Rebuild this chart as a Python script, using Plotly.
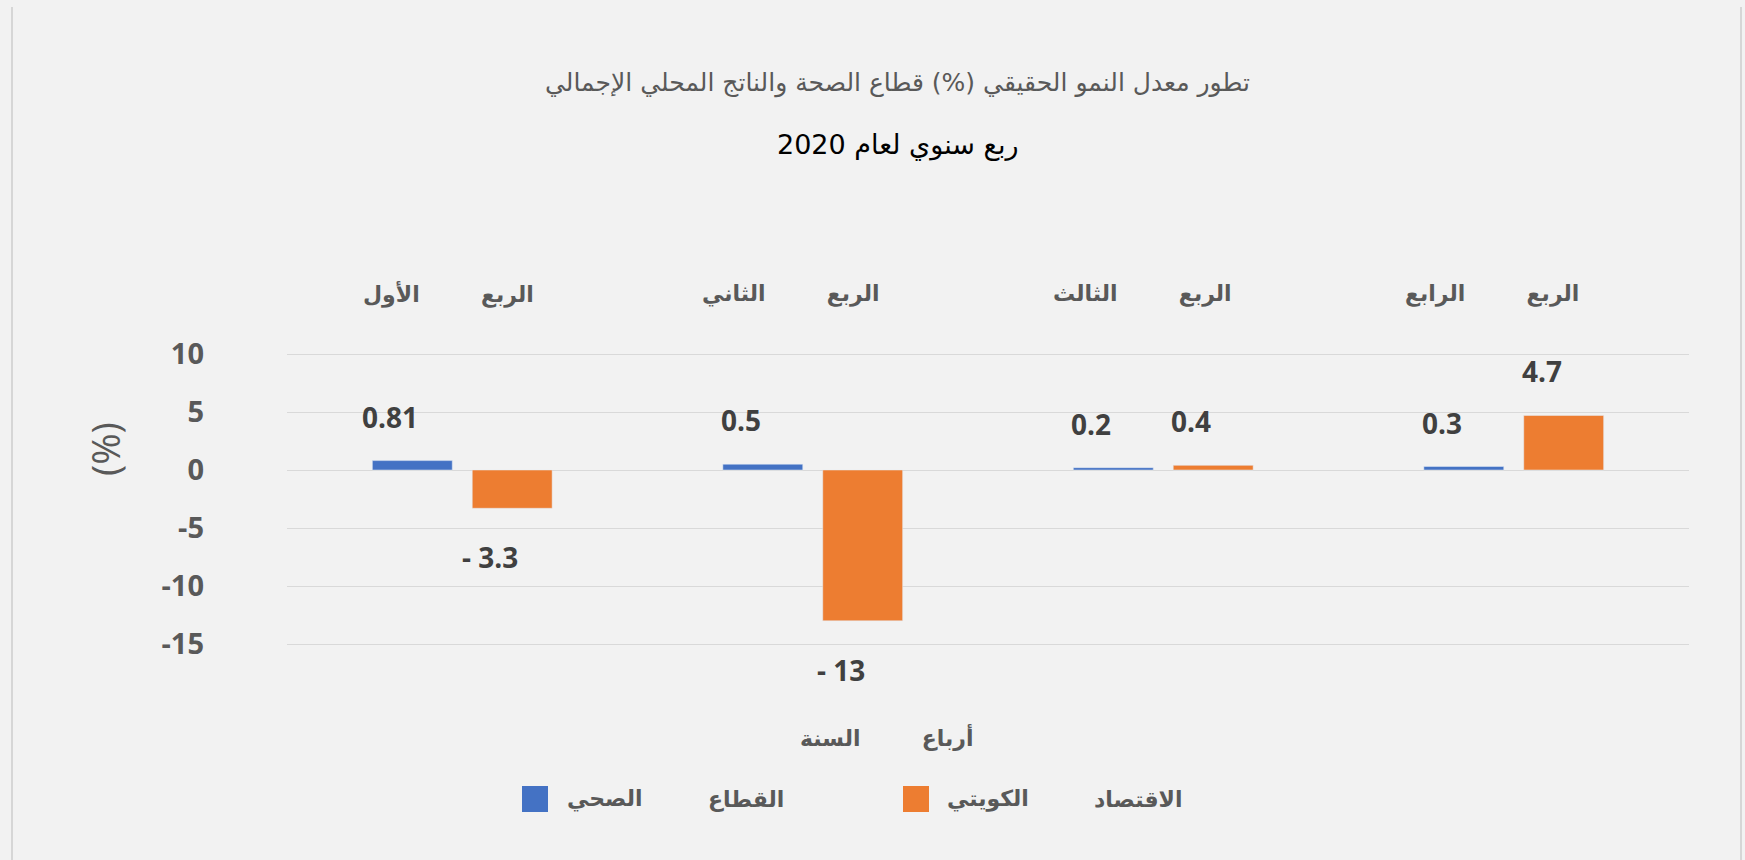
import plotly.graph_objects as go

# ---------------- data ----------------
quarters = ["الربع الأول", "الربع الثاني", "الربع الثالث", "الربع الرابع"]
series_names = ["القطاع الصحي", "الاقتصاد الكويتي"]
health = [0.81, 0.5, 0.2, 0.3]
economy = [-3.3, -13, 0.4, 4.7]
health_labels = ["0.81", "0.5", "0.2", "0.3"]
economy_labels = ["- 3.3", "- 13", "0.4", "4.7"]
y_ticks = [-15, -10, -5, 0, 5, 10]
y_tick_text = ["-15", "-10", "-5", "0", "5", "10"]
title_line1 = "تطور معدل النمو الحقيقي (%) قطاع الصحة والناتج المحلي الإجمالي"
title_line2 = "ربع سنوي لعام 2020"
x_title = "أرباع السنة"
y_title = "(%)"

# ---------------- styles ----------------
BLUE = "#4472C4"
ORANGE = "#ED7D31"
GRAY = "#595959"
DARK = "#404040"
BG = "#F2F2F2"
GRID = "#D9D9D9"
W, H = 1745, 860
L, R, T, B = 287, 56, 352, 214
PW, PH = W - L - R, H - T - B
EXTRA = 2 / 11.6  # small padding so the 10 and -15 gridlines are drawn
AR_FONT = "DejaVu Sans"
NUM_FONT = "Open Sans"
NB = "\u00a0"


def px_x(p):
    return (p - L) / PW


def px_y(p):
    return (H - B - p) / PH


def spaced(text, n):
    return text.replace(" ", NB * n)


fig = go.Figure()
fig.add_trace(go.Bar(x=quarters, y=health, name=series_names[0],
                     marker_color=BLUE, showlegend=False))
fig.add_trace(go.Bar(x=quarters, y=economy, name=series_names[1],
                     marker_color=ORANGE, showlegend=False))

annotations = []
# data labels
for vals, labels, off in ((health, health_labels, -50), (economy, economy_labels, 50)):
    for q, v, t in zip(quarters, vals, labels):
        annotations.append(dict(
            x=q, y=v, xref="x", yref="y", text=t, showarrow=False,
            xshift=off - 22, yshift=44 if v >= 0 else -49,
            yanchor="middle", xanchor="center",
            font=dict(family=NUM_FONT, size=28, color=DARK, weight="bold")))

# category labels (top)
cat_shift = [-14, -22, -21, -22]
for q, s in zip(quarters, cat_shift):
    annotations.append(dict(
        x=q, y=px_y(294), xref="x", yref="paper", text=spaced(q, 8),
        showarrow=False, xshift=s, yanchor="middle", xanchor="center",
        font=dict(family=AR_FONT, size=22, color=GRAY, weight="bold")))

# titles
annotations.append(dict(x=px_x(897), y=px_y(83), xref="paper", yref="paper",
                        text=title_line1, showarrow=False, xanchor="center", yanchor="middle",
                        font=dict(family=AR_FONT, size=25, color=GRAY)))
annotations.append(dict(x=px_x(897), y=px_y(145), xref="paper", yref="paper",
                        text=title_line2, showarrow=False, xanchor="center", yanchor="middle",
                        font=dict(family=AR_FONT, size=27, color="#000000")))
# axis titles
annotations.append(dict(x=px_x(887), y=px_y(737), xref="paper", yref="paper",
                        text=spaced(x_title, 8), showarrow=False, xanchor="center", yanchor="middle",
                        font=dict(family=AR_FONT, size=22, color=GRAY, weight="bold")))
annotations.append(dict(x=px_x(105), y=px_y(449), xref="paper", yref="paper",
                        text=y_title, showarrow=False, textangle=-90,
                        xanchor="center", yanchor="middle",
                        font=dict(family=NUM_FONT, size=38, color=GRAY)))

# custom legend: swatch, left word (anchored left), right word (anchored right)
shapes = []
legend_items = [(series_names[0], BLUE, 522, 565, 786), (series_names[1], ORANGE, 903, 945, 1185)]
for name, col, sx, left_x, right_x in legend_items:
    right_word, left_word = name.split(" ")
    shapes.append(dict(type="rect", xref="paper", yref="paper",
                       x0=px_x(sx), x1=px_x(sx + 26), y0=px_y(812), y1=px_y(786),
                       fillcolor=col, line=dict(width=0)))
    annotations.append(dict(x=px_x(left_x), y=px_y(799), xref="paper", yref="paper",
                            text=left_word, showarrow=False, xanchor="left", yanchor="middle",
                            font=dict(family=AR_FONT, size=22, color=GRAY, weight="bold")))
    annotations.append(dict(x=px_x(right_x), y=px_y(799), xref="paper", yref="paper",
                            text=right_word, showarrow=False, xanchor="right", yanchor="middle",
                            font=dict(family=AR_FONT, size=22, color=GRAY, weight="bold")))

# chart border lines
for bx in (12, 1741):
    shapes.append(dict(type="line", xref="paper", yref="paper",
                       x0=px_x(bx), x1=px_x(bx), y0=px_y(7), y1=px_y(880),
                       line=dict(color="#D6D6D6", width=2)))

fig.update_layout(
    width=W, height=H,
    margin=dict(l=L, r=R, t=T, b=B, pad=0),
    paper_bgcolor=BG, plot_bgcolor=BG,
    barmode="group", bargap=0.43, bargroupgap=0.2,
    annotations=annotations, shapes=shapes,
    showlegend=False,
)
fig.update_xaxes(showticklabels=False, showgrid=False, zeroline=False,
                 showline=False, ticks="")
fig.update_yaxes(range=[-15 - EXTRA, 10 + EXTRA], tickvals=y_ticks, ticktext=y_tick_text,
                 showgrid=True, gridcolor=GRID, gridwidth=1.3,
                 zeroline=True, zerolinecolor=GRID, zerolinewidth=1.3,
                 showline=False, ticks="", ticklabelstandoff=82,
                 tickfont=dict(family=NUM_FONT, size=29, color=GRAY, weight="bold"))

fig.write_html("out.html", config={"displayModeBar": False},
               post_script="document.body.style.margin='0';document.body.style.background='#F2F2F2';")
